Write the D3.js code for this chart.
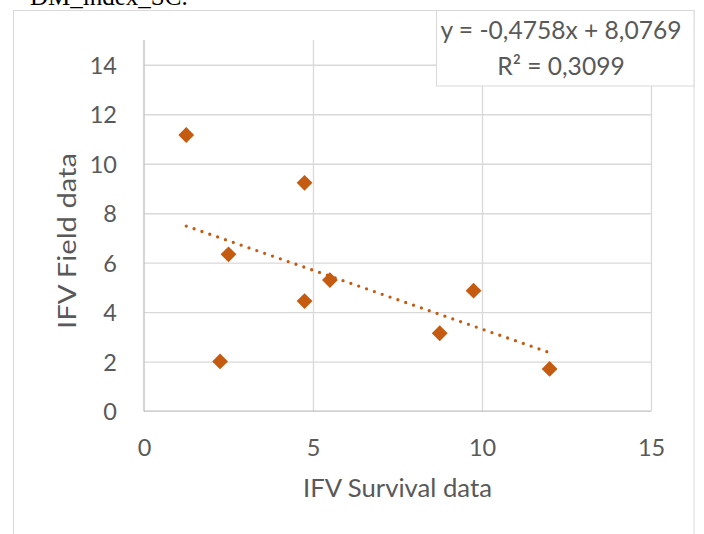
<!DOCTYPE html>
<html>
<head>
<meta charset="utf-8">
<script src="https://cdn.jsdelivr.net/npm/d3@7"></script>
<style>
  html, body { margin: 0; padding: 0; background: #fff; }
  svg { display: block; }
</style>
</head>
<body>
<svg id="chart" width="704" height="534"></svg>
<script>
// ---- data ----
const survival = [1.25, 4.75, 2.5, 5.5, 4.75, 2.25, 8.75, 9.75, 12];
const field    = [11.16, 9.23, 6.34, 5.30, 4.45, 2.01, 3.15, 4.87, 1.71];
const xTicks = [0, 5, 10, 15];
const yTicks = [0, 2, 4, 6, 8, 10, 12, 14];
const trendSlope = [-0.4758];
const trendIntercept = [8.0769];
const trendLabel = ["y = -0,4758x + 8,0769", "R² = 0,3099"];
const xTitle = "IFV Survival data";
const yTitle = "IFV Field data";
const headerText = "DM_index_SC.";

// ---- layout ----
const plot = { left: 144, right: 651, top: 40, bottom: 411.2 };
const orange = "#C55A11";
const font = "Lato, 'Open Sans', sans-serif";
const textColor = "#595959";

const svg = d3.select("#chart");

const x = d3.scaleLinear().domain([0, 15]).range([plot.left, plot.right]);
const y = d3.scaleLinear().domain([0, 15]).range([plot.bottom, plot.top]);

// header text (cut off at top, as in the source document)
svg.append("text")
  .attr("x", 30).attr("y", 5)
  .attr("font-family", "'Liberation Serif', 'Times New Roman', serif")
  .attr("font-size", 25)
  .attr("fill", "#000")
  .text(headerText);

// chart area border
svg.append("rect")
  .attr("x", 13.5).attr("y", 10.5)
  .attr("width", 694 - 13.5).attr("height", 600)
  .attr("fill", "#fff")
  .attr("stroke", "#D9D9D9").attr("stroke-width", 1);

// horizontal gridlines
const gy = svg.append("g")
  .attr("transform", `translate(${plot.left},0)`)
  .call(d3.axisLeft(y).tickValues(yTicks.filter(d => d > 0))
        .tickSize(-(plot.right - plot.left)).tickFormat(""));
gy.select(".domain").remove();
gy.selectAll("line").attr("stroke", "#D9D9D9").attr("stroke-width", 1.3);

// vertical gridlines
const gx = svg.append("g")
  .attr("transform", `translate(0,${plot.bottom})`)
  .call(d3.axisBottom(x).tickValues(xTicks.filter(d => d > 0))
        .tickSize(-(plot.bottom - plot.top)).tickFormat(""));
gx.select(".domain").remove();
gx.selectAll("line").attr("stroke", "#D9D9D9").attr("stroke-width", 1.3);

// axis lines
svg.append("line")
  .attr("x1", x(0)).attr("x2", x(0))
  .attr("y1", plot.top).attr("y2", plot.bottom)
  .attr("stroke", "#BFBFBF").attr("stroke-width", 1.3);
svg.append("line")
  .attr("x1", x(0)).attr("x2", plot.right)
  .attr("y1", y(0)).attr("y2", y(0))
  .attr("stroke", "#BFBFBF").attr("stroke-width", 1.3);

// y tick labels
const yAxis = svg.append("g")
  .attr("transform", `translate(${plot.left},0)`)
  .call(d3.axisLeft(y).tickValues(yTicks).tickSize(0).tickPadding(27)
        .tickFormat(d3.format("d")));
yAxis.select(".domain").remove();
yAxis.selectAll("text")
  .attr("font-family", font).attr("font-size", 23.5)
  .attr("fill", textColor).attr("dy", "0.36em");

// x tick labels
const xAxis = svg.append("g")
  .attr("transform", `translate(0,${plot.bottom})`)
  .call(d3.axisBottom(x).tickValues(xTicks).tickSize(0).tickPadding(0)
        .tickFormat(d3.format("d")));
xAxis.select(".domain").remove();
xAxis.selectAll("text")
  .attr("font-family", font).attr("font-size", 23.5)
  .attr("fill", textColor).attr("dy", null).attr("y", 45);

// axis titles
svg.append("text")
  .attr("x", 397.5).attr("y", 497)
  .attr("text-anchor", "middle")
  .attr("font-family", font).attr("font-size", 25.7)
  .attr("fill", textColor)
  .text(xTitle);
svg.append("text")
  .attr("transform", "translate(76,241) rotate(-90)")
  .attr("text-anchor", "middle")
  .attr("font-family", font).attr("font-size", 25.7)
  .attr("textLength", 176)
  .attr("lengthAdjust", "spacingAndGlyphs")
  .attr("fill", textColor)
  .text(yTitle);

// trendline
const xMin = d3.min(survival), xMax = d3.max(survival);
const trendPts = [xMin, xMax].map(v => [v, trendSlope[0] * v + trendIntercept[0]]);
svg.append("path")
  .attr("d", d3.line().x(d => x(d[0])).y(d => y(d[1]))(trendPts))
  .attr("fill", "none")
  .attr("stroke", orange)
  .attr("stroke-width", 3.3)
  .attr("stroke-linecap", "round")
  .attr("stroke-dasharray", "0 8.3");

// markers
const data = survival.map((v, i) => ({ x: v, y: field[i] }));
const diamond = d3.symbol().type(d3.symbolSquare).size(125);
svg.append("g").selectAll("path")
  .data(data)
  .join("path")
  .attr("d", diamond)
  .attr("transform", d => `translate(${x(d.x)},${y(d.y)}) rotate(45)`)
  .attr("fill", orange);

// trendline label box
svg.append("rect")
  .attr("x", 436.5).attr("y", 10.5)
  .attr("width", 694 - 436.5).attr("height", 86 - 10.5)
  .attr("fill", "#fff")
  .attr("stroke", "#D9D9D9").attr("stroke-width", 1);
svg.append("g").selectAll("text")
  .data(trendLabel)
  .join("text")
  .attr("x", 561).attr("y", (d, i) => 39 + i * 36)
  .attr("text-anchor", "middle")
  .attr("font-family", font).attr("font-size", 24.6)
  .attr("fill", textColor)
  .text(d => d);
</script>
</body>
</html>
